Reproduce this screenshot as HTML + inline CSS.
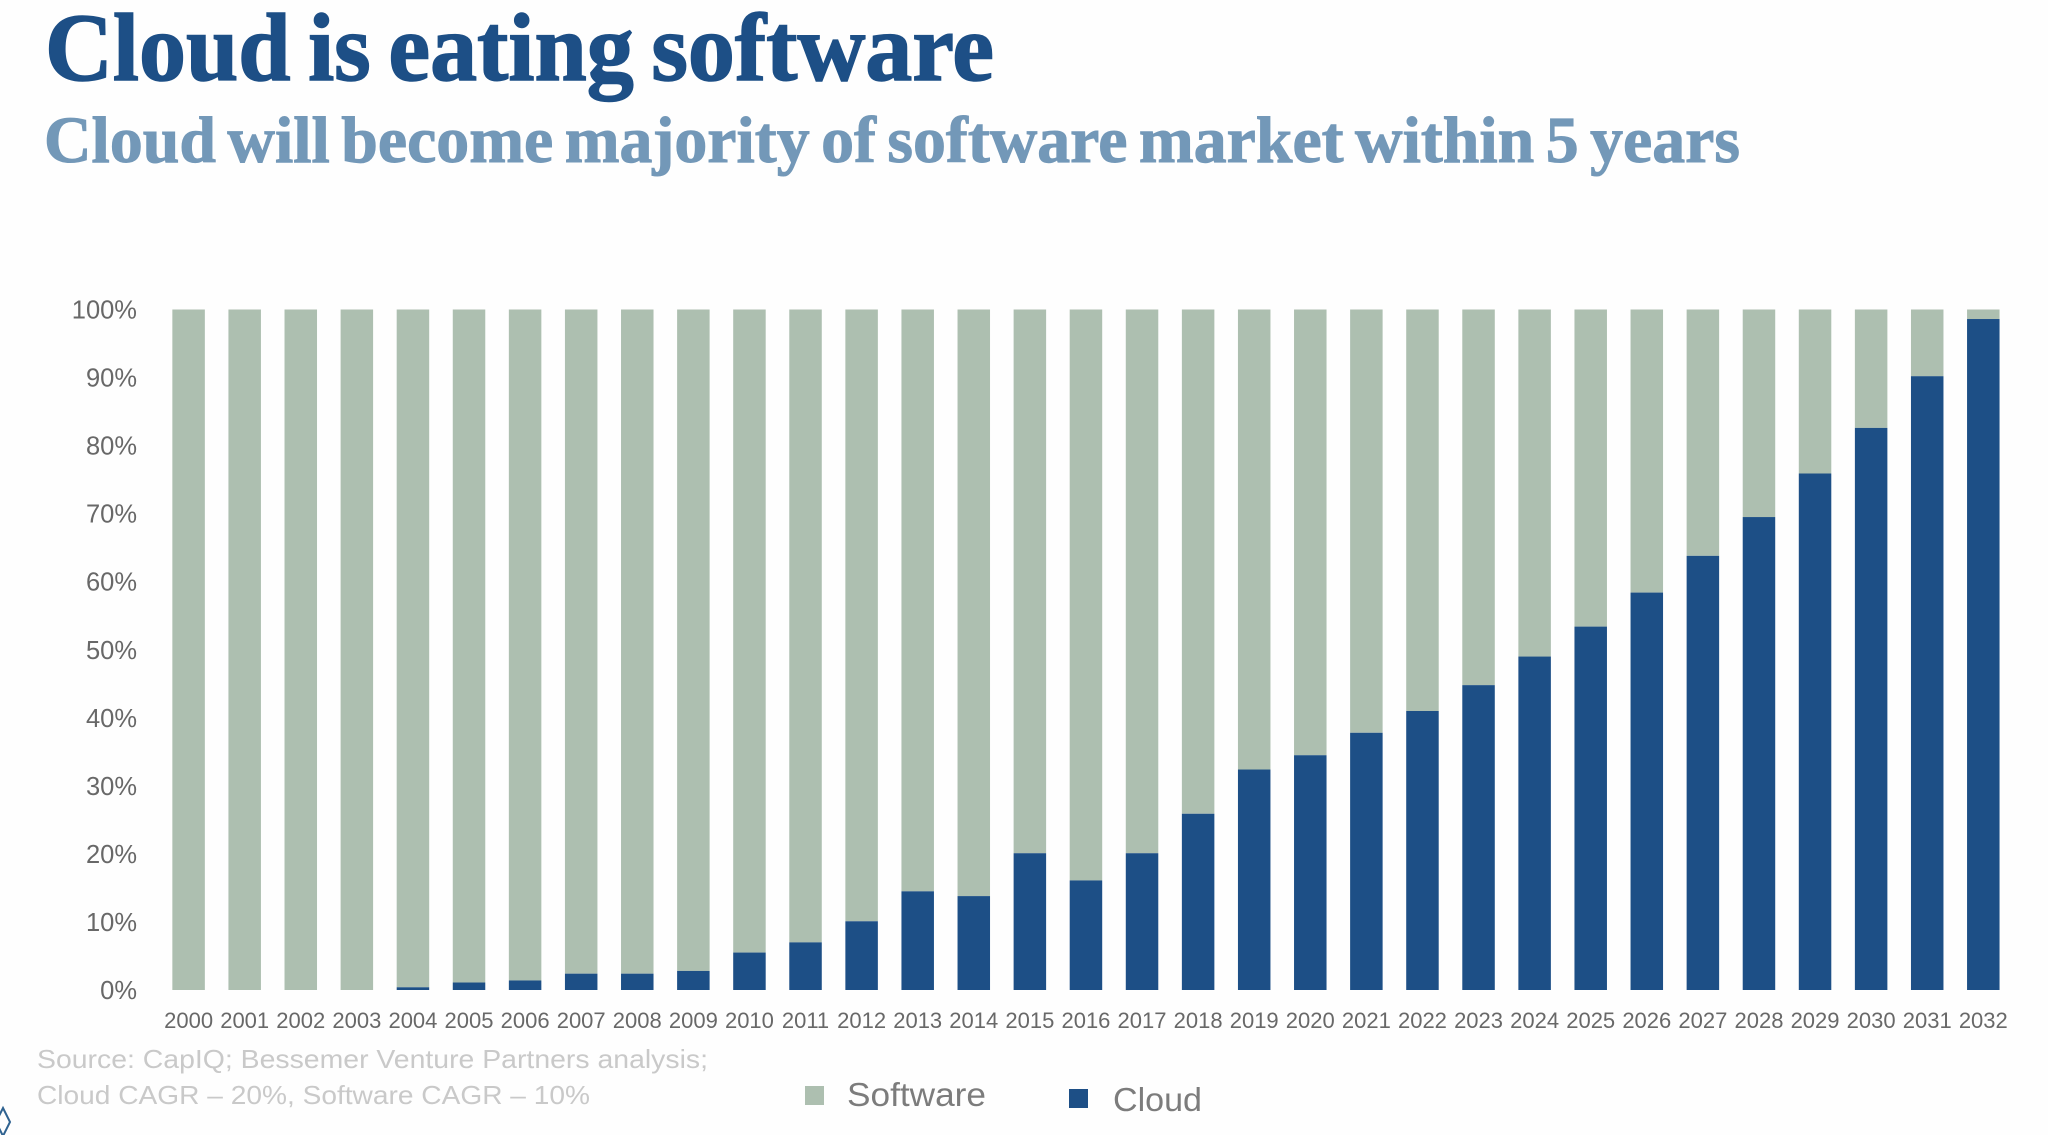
<!DOCTYPE html>
<html lang="en">
<head>
<meta charset="utf-8">
<title>Cloud is eating software</title>
<style>
html,body{margin:0;padding:0;background:#fff;}
body{width:2048px;height:1135px;overflow:hidden;}
svg{display:block;}
.axis{font-family:"Liberation Sans",sans-serif;fill:#686868;}
.note{font-family:"Liberation Sans",sans-serif;fill:#c9c9c9;font-size:26px;}
.legend{font-family:"Liberation Sans",sans-serif;fill:#7c7c7c;font-size:33px;}
</style>
</head>
<body>
<svg id="chart" xmlns="http://www.w3.org/2000/svg" width="2048" height="1135" viewBox="0 0 2048 1135">
  <rect x="0" y="0" width="2048" height="1135" fill="#fefefe"/>
  <text x="45" y="80" font-family="'Liberation Serif',serif" font-weight="700" font-size="96" fill="#1d4f86" stroke="#1d4f86" stroke-width="1.5" word-spacing="-6" textLength="949" lengthAdjust="spacingAndGlyphs">Cloud is eating software</text>
  <text x="44" y="162" font-family="'Liberation Serif',serif" font-weight="700" font-size="66" fill="#7398b8" stroke="#7398b8" stroke-width="1" word-spacing="-5" textLength="1696" lengthAdjust="spacingAndGlyphs">Cloud will become majority of software market within 5 years</text>
  <g id="bars"></g>
  <g id="y-axis"></g>
  <g id="x-axis"></g>
  <text class="note" x="37" y="1068" textLength="671" lengthAdjust="spacingAndGlyphs">Source: CapIQ; Bessemer Venture Partners analysis;</text>
  <text class="note" x="37" y="1104" textLength="553" lengthAdjust="spacingAndGlyphs">Cloud CAGR – 20%, Software CAGR – 10%</text>
  <g>
    <rect x="805" y="1086" width="19" height="19" fill="#adbfb0"/>
    <text class="legend" x="847" y="1106" textLength="139" lengthAdjust="spacingAndGlyphs">Software</text>
    <rect x="1069" y="1089" width="19" height="19" fill="#1d4f86"/>
    <text class="legend" x="1113" y="1111" textLength="89" lengthAdjust="spacingAndGlyphs">Cloud</text>
  </g>
  <path d="M3 1108 L10 1122 L3 1136 L-4 1122 Z" fill="none" stroke="#2f6290" stroke-width="2"/>
</svg>
<script>
const years = [2000,2001,2002,2003,2004,2005,2006,2007,2008,2009,2010,2011,2012,2013,2014,2015,2016,2017,2018,2019,2020,2021,2022,2023,2024,2025,2026,2027,2028,2029,2030,2031,2032];
const cloudShare = [0,0,0,0,0.4,1.1,1.4,2.4,2.4,2.8,5.5,7.0,10.1,14.5,13.8,20.1,16.1,20.1,25.9,32.4,34.5,37.8,41,44.8,49,53.4,58.4,63.8,69.5,75.9,82.6,90.2,98.6];
const softwareShare = [100,100,100,100,99.6,98.9,98.6,97.6,97.6,97.2,94.5,93.0,89.9,85.5,86.2,79.9,83.9,79.9,74.1,67.6,65.5,62.2,59,55.2,51,46.6,41.6,36.2,30.5,24.1,17.4,9.8,1.4];
const yTicks = [0,10,20,30,40,50,60,70,80,90,100];

const NS = 'http://www.w3.org/2000/svg';
const plotTop = 309.5, plotBottom = 990;
const firstCenter = 188.6, lastCenter = 1983.3, barWidth = 32.5;

function xScale(index) {
  return firstCenter + (lastCenter - firstCenter) * index / (years.length - 1);
}
function yScale(value) {
  return plotBottom - (plotBottom - plotTop) * value / 100;
}

const barsGroup = document.getElementById('bars');
const xGroup = document.getElementById('x-axis');
const yGroup = document.getElementById('y-axis');

years.forEach(function (year, i) {
  const cx = xScale(i);

  const soft = document.createElementNS(NS, 'rect');
  
  
  soft.setAttribute('x', cx - barWidth / 2);
  soft.setAttribute('width', barWidth);
  soft.setAttribute('y', yScale(cloudShare[i] + softwareShare[i]));
  soft.setAttribute('height', yScale(cloudShare[i]) - yScale(cloudShare[i] + softwareShare[i]));
  soft.setAttribute('fill', '#adbfb0');
  barsGroup.appendChild(soft);

  if (cloudShare[i] > 0) {
    const cloud = document.createElementNS(NS, 'rect');
    
    
    cloud.setAttribute('x', cx - barWidth / 2);
    cloud.setAttribute('width', barWidth);
    cloud.setAttribute('y', yScale(cloudShare[i]));
    cloud.setAttribute('height', yScale(0) - yScale(cloudShare[i]));
    cloud.setAttribute('fill', '#1d4f86');
    barsGroup.appendChild(cloud);
  }

  const label = document.createElementNS(NS, 'text');
  
  
  label.setAttribute('class', 'axis');
  label.setAttribute('x', cx);
  label.setAttribute('y', 1028);
  label.setAttribute('text-anchor', 'middle');
  label.setAttribute('font-size', '22');
  label.textContent = year;
  xGroup.appendChild(label);
});

yTicks.forEach(function (tick) {
  const label = document.createElementNS(NS, 'text');
  
  
  label.setAttribute('class', 'axis');
  label.setAttribute('x', 137);
  label.setAttribute('y', yScale(tick) + 9);
  label.setAttribute('text-anchor', 'end');
  label.setAttribute('font-size', '25.5');
  label.textContent = tick + '%';
  yGroup.appendChild(label);
});
</script>
</body>
</html>
